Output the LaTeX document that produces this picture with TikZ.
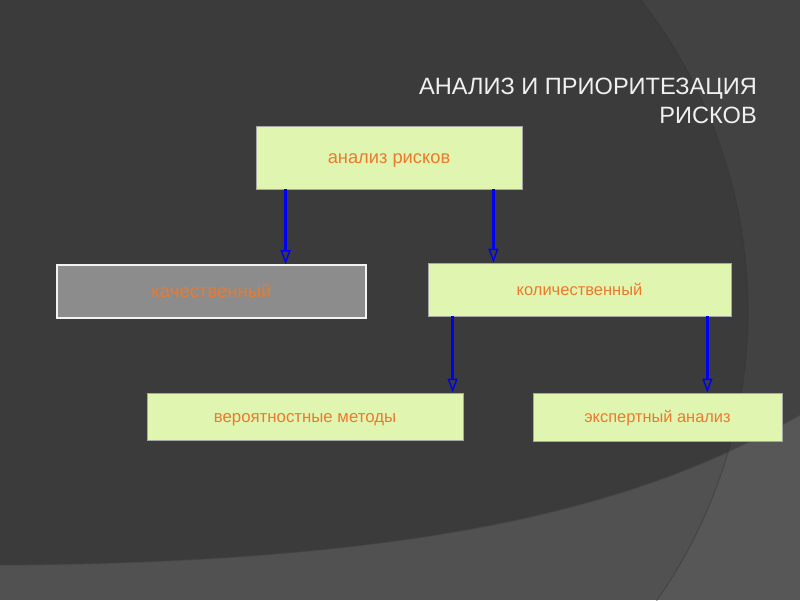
\documentclass[tikz,border=0pt]{standalone}
\usepackage{fontspec}
\setmainfont{Liberation Sans}
\usetikzlibrary{arrows.meta}
\definecolor{bglight}{HTML}{515151}
\definecolor{bgdark}{HTML}{3B3B3B}
\definecolor{boxfill}{HTML}{E0F6B0}
\definecolor{boxgray}{HTML}{8C8C8C}
\definecolor{txtorange}{HTML}{EA7A2E}
\definecolor{arrblue}{HTML}{0000F0}
\tikzset{
  box/.style={rectangle, draw=gray!70, line width=0.8pt, fill=boxfill, inner sep=0pt,
    text=txtorange, font=\fontsize{17}{20}\selectfont, text height=12.2pt, text depth=0.8pt},
  fs/.style={font=\fontsize{#1}{20}\selectfont},
  graybox/.style={box, fill=boxgray, draw=white!90!gray, line width=1.6pt},
  arr/.style={draw=arrblue, line width=2.4pt, -{Triangle[open, length=14pt, width=10pt, line width=1.4pt]}},
  ttl/.style={text=white!94!black, font=\fontsize{23.6}{29}\selectfont, inner sep=0pt}
}
\begin{document}
\begin{tikzpicture}[x=1pt,y=-1pt]
\useasboundingbox (0,0) rectangle (800,600);
% background
\fill[bglight] (0,0) rectangle (800,600);
\fill[bgdark] (0,0) -- (800,0) -- (800,415) .. controls (650,500) and (450,562) .. (0,565) -- cycle;
\draw[black!75, opacity=0.5, line width=1.5pt] (800,415) .. controls (650,500) and (450,562) .. (0,565);
\begin{scope}
\clip (0,0) rectangle (800,600);
\fill[white, opacity=0.04, even odd rule] (0,0) rectangle (800,600) (243,311) circle[radius=505];
\draw[black!80, opacity=0.45, line width=1pt] (243,311) circle[radius=505];
\end{scope}
% title
\node[ttl, anchor=base east] (t1) at (757,94) {АНАЛИЗ И ПРИОРИТЕЗАЦИЯ};
\node[ttl, anchor=base east] (t2) at (757,123) {РИСКОВ};
% boxes
\node[box, fs=18.3, minimum width=266pt, minimum height=63pt] (top) at (389,157.5) {анализ рисков};
\node[graybox, fs=18.5, minimum width=309pt, minimum height=53pt] (kach) at (211.5,291.5) {качественный};
\node[box, fs=16.5, minimum width=303pt, minimum height=53pt] (kol) at (579.5,289.5) {количественный};
\node[box, fs=16.8, minimum width=316pt, minimum height=47pt] (ver) at (305,416.5) {вероятностные методы};
\node[box, fs=16.4, minimum width=249pt, minimum height=48pt] (exp) at (657.5,417) {экспертный анализ};
% arrows
\draw[arr] ([xshift=30pt]top.south west) -- ([xshift=30pt]top.south west |- kach.north);
\draw[arr] ([xshift=-29pt]top.south east) -- ([xshift=-29pt]top.south east |- kol.north);
\draw[arr] ([xshift=25pt]kol.south west) -- ([xshift=25pt]kol.south west |- ver.north);
\draw[arr] ([xshift=-24pt]kol.south east) -- ([xshift=-24pt]kol.south east |- exp.north);
\end{tikzpicture}
\end{document}
